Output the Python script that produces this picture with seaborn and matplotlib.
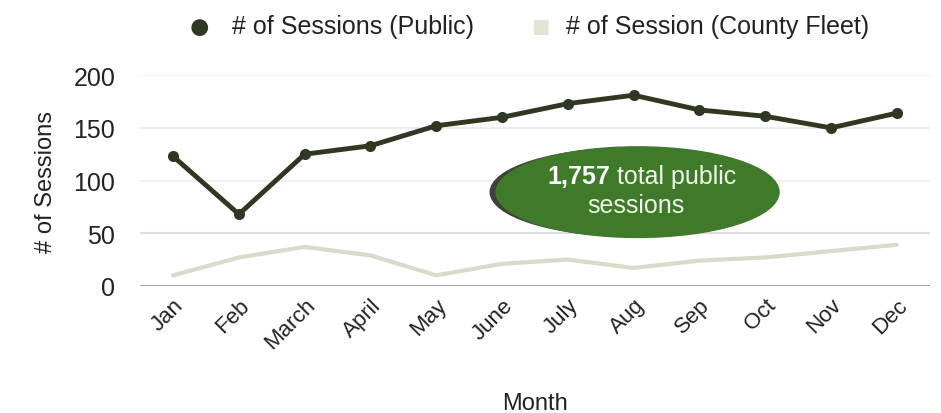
import matplotlib
matplotlib.use("Agg")
import matplotlib.pyplot as plt
from matplotlib.patches import Ellipse
import seaborn as sns
import pandas as pd

months = ["Jan", "Feb", "March", "April", "May", "June",
          "July", "Aug", "Sep", "Oct", "Nov", "Dec"]
public = [123, 68, 125, 133, 152, 160, 173, 181, 167, 161, 150, 164]
fleet = [10, 27, 37, 29, 10, 21, 25, 17, 24, 27, 33, 39]
total_public = "1,757"

sns.set_style("white")
plt.rcParams['font.family'] = ['Liberation Sans Narrow', 'Liberation Sans', 'DejaVu Sans']

df = pd.DataFrame({"Month": months, "public": public, "fleet": fleet})
df["x"] = range(len(months))

fig = plt.figure(figsize=(9.41, 4.14), dpi=100)
ax = fig.add_axes([0.149, 0.307, 0.839, 0.509])

sns.lineplot(data=df, x="x", y="fleet", color="#d5dcc8", lw=3, ax=ax, zorder=2)
sns.lineplot(data=df, x="x", y="public", color="#2e3823", lw=3.5,
             marker="o", markersize=8, markeredgewidth=0, ax=ax, zorder=3)

ax.set_xlim(-0.5, 11.5)
ax.set_ylim(0, 200)
ax.set_yticks([0, 50, 100, 150, 200])
ax.set_xticks(df["x"])
ax.set_xticklabels(months, rotation=45, ha="right", rotation_mode="anchor")
for y, c in zip([50, 100, 150, 200], ["#dddddd", "#f2f2f2", "#ededed", "#f2f2f2"]):
    ax.axhline(y, color=c, lw=1.5, zorder=1)
ax.axhline(0, color="#9a9a9a", lw=2, zorder=1)
for s in ax.spines.values():
    s.set_visible(False)
ax.tick_params(axis="both", length=0, labelsize=18, colors="#222222")
ax.tick_params(axis="y", pad=18)
ax.tick_params(axis="x", pad=6, labelsize=16)
ax.set_xlabel("Month", fontsize=17, color="#222222", labelpad=28)
ax.set_ylabel("# of Sessions", fontsize=17, color="#222222", labelpad=12)

# annotation pill
ax.add_patch(Ellipse((7.0, 89), 4.36, 84, color="#3d4238", zorder=4))
ax.add_patch(Ellipse((7.06, 89), 4.3, 86, color="#3f7a2b", zorder=5))
ax.text(6.64, 104, total_public, fontsize=18, fontweight="bold", color="white",
        ha="right", va="center", zorder=6)
ax.text(6.64, 104, " total public", fontsize=18, color="#eef5e6",
        ha="left", va="center", zorder=6)
ax.text(7.04, 77, "sessions", fontsize=18, color="#eef5e6",
        ha="center", va="center", zorder=6)

# legend
fig.text(0.212, 0.93, "\u25CF", fontsize=28, color="#2e3823", ha="center", va="center")
fig.text(0.247, 0.935, "# of Sessions (Public)", fontsize=18, color="#222222", va="center")
fig.text(0.574, 0.93, "\u25A0", fontsize=22, color="#dfe6d3", ha="center", va="center")
fig.text(0.602, 0.935, "# of Session (County Fleet)", fontsize=18, color="#222222", va="center")

fig.savefig("out.png", dpi=100)
